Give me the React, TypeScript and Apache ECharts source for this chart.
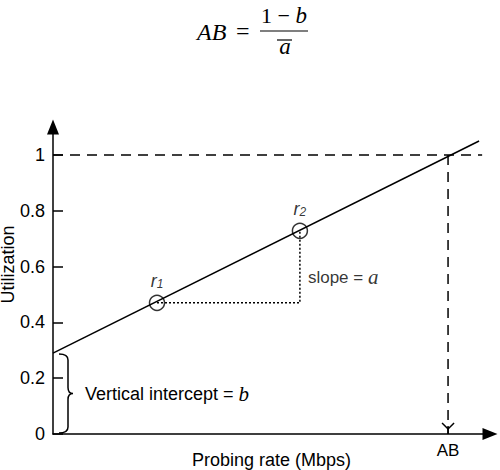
import React, { useEffect, useRef } from "react";
import * as echarts from "echarts";

// ---- data ----
const yTickValues = [0, 0.2, 0.4, 0.6, 0.8, 1];
const yTickLabels = ["0", "0.2", "0.4", "0.6", "0.8", "1"];
const xMax = 10;
const yMax = 1.1;
const intercept = 0.29; // b
const fitLine = [
  [0, 0.29],
  [9.75, 1.05],
];
const probePoints = [
  { name: "1", value: [2.38, 0.47] },
  { name: "2", value: [5.65, 0.728] },
];
const abValue = 9.04;
const fullUtilization = 1;
const dashEndX = 9.82;
const slopeLabelPos = [5.65, 0.561];

const SANS = "'Liberation Sans', Arial, sans-serif";
const SERIF = "'Liberation Serif', 'Times New Roman', serif";

export default function App() {
  const ref = useRef<HTMLDivElement>(null);

  useEffect(() => {
    if (!ref.current) return;
    const chart = echarts.init(ref.current, null, { renderer: "svg" });

    const r1 = probePoints[0].value;
    const r2 = probePoints[1].value;

    const option: any = {
      animation: false,
      grid: {
        left: 53,
        right: 10,
        top: 127,
        bottom: 36,
        containLabel: false,
        outerBoundsMode: "none",
      },
      xAxis: {
        type: "value",
        min: 0,
        max: xMax,
        axisLine: {
          show: true,
          symbol: ["none", "triangle"],
          symbolSize: [12, 15],
          lineStyle: { color: "#000", width: 1.5 },
        },
        axisTick: { show: false },
        splitLine: { show: false },
        axisLabel: {
          show: true,
          customValues: [abValue],
          formatter: () => "AB",
          color: "#000",
          fontFamily: SANS,
          fontSize: 17,
          margin: 8,
        },
        name: "Probing rate (Mbps)",
        nameLocation: "middle",
        nameGap: 17,
        nameMoveOverlap: false,
        nameTextStyle: { color: "#000", fontFamily: SANS, fontSize: 18 },
      },
      yAxis: {
        type: "value",
        min: 0,
        max: yMax,
        axisLine: {
          show: true,
          symbol: ["none", "triangle"],
          symbolSize: [12, 15],
          lineStyle: { color: "#000", width: 1.5 },
        },
        axisTick: {
          show: true,
          inside: true,
          length: 10,
          customValues: yTickValues,
          lineStyle: { color: "#000", width: 1.5 },
        },
        splitLine: { show: false },
        axisLabel: {
          show: true,
          customValues: yTickValues,
          formatter: (v: number) => {
            const i = yTickValues.findIndex((t) => Math.abs(t - v) < 1e-6);
            return i >= 0 ? yTickLabels[i] : "";
          },
          color: "#000",
          fontFamily: SANS,
          fontSize: 18,
          margin: 8,
        },
        name: "Utilization",
        nameLocation: "middle",
        nameRotate: 90,
        nameGap: 36,
        nameMoveOverlap: false,
        nameTextStyle: {
          color: "#000",
          fontFamily: SANS,
          fontSize: 18,
          padding: [0, 0, 0, 32],
        },
      },
      graphic: [
        {
          type: "text",
          x: 197,
          y: 32,
          style: {
            text: "AB",
            font: `italic 24px ${SERIF}`,
            fill: "#000",
            verticalAlign: "middle",
          },
        },
        {
          type: "text",
          x: 236,
          y: 31,
          style: {
            text: "=",
            font: `24px ${SERIF}`,
            fill: "#000",
            verticalAlign: "middle",
          },
        },
        {
          type: "line",
          shape: { x1: 260, y1: 31, x2: 308, y2: 31 },
          style: { stroke: "#000", lineWidth: 1.2 },
        },
        {
          type: "text",
          x: 284,
          y: 15,
          style: {
            text: "{n|1 − }{i|b}",
            align: "center",
            verticalAlign: "middle",
            rich: {
              n: { font: `22px ${SERIF}`, fill: "#000" },
              i: { font: `italic 23px ${SERIF}`, fill: "#000" },
            },
          },
        },
        {
          type: "text",
          x: 285,
          y: 46,
          style: {
            text: "a",
            font: `italic 23px ${SERIF}`,
            fill: "#000",
            align: "center",
            verticalAlign: "middle",
          },
        },
        {
          type: "line",
          shape: { x1: 277, y1: 40, x2: 292, y2: 40 },
          style: { stroke: "#000", lineWidth: 1.2 },
        },
      ],
      series: [
        {
          name: "fit",
          type: "line",
          data: fitLine,
          symbol: "none",
          lineStyle: { color: "#000", width: 1.5 },
          z: 3,
        },
        {
          name: "full",
          type: "line",
          data: [
            [0, fullUtilization],
            [dashEndX, fullUtilization],
          ],
          symbol: "none",
          lineStyle: { color: "#000", width: 1.5, type: [10, 7] },
          z: 2,
        },
        {
          name: "abDrop",
          type: "line",
          data: [
            [abValue, fullUtilization],
            [abValue, 0],
          ],
          symbol: "none",
          lineStyle: { color: "#000", width: 1.5, type: [10, 7] },
          z: 2,
        },
        {
          name: "slopeGuide",
          type: "line",
          data: [
            [r1[0], r1[1]],
            [r2[0], r1[1]],
            [r2[0], r2[1]],
          ],
          symbol: "none",
          lineStyle: { color: "#000", width: 1.5, type: [2, 2] },
          z: 2,
        },
        {
          name: "probes",
          type: "scatter",
          data: probePoints,
          symbol: "circle",
          symbolSize: 15,
          itemStyle: {
            color: "rgba(0,0,0,0)",
            borderColor: "#000",
            borderWidth: 1.5,
          },
          label: {
            show: true,
            position: "top",
            distance: 5,
            color: "#000",
            formatter: (p: any) => `{i|r}{s|${p.name}}`,
            rich: {
              i: {
                fontFamily: SANS,
                fontStyle: "italic",
                fontSize: 18,
                lineHeight: 18,
                color: "#000",
                verticalAlign: "top",
              },
              s: {
                fontFamily: SANS,
                fontStyle: "italic",
                fontSize: 12,
                lineHeight: 12,
                padding: [4, 0, 0, 0],
                color: "#000",
                verticalAlign: "bottom",
              },
            },
          },
          z: 4,
        },
        {
          name: "slopeLabel",
          type: "scatter",
          data: [slopeLabelPos],
          symbolSize: 0,
          itemStyle: { color: "rgba(0,0,0,0)" },
          label: {
            show: true,
            position: "right",
            distance: 8,
            color: "#000",
            formatter: "{n|slope = }{i|a}",
            rich: {
              n: { fontFamily: SANS, fontSize: 17, color: "#000" },
              i: {
                fontFamily: SERIF,
                fontStyle: "italic",
                fontSize: 21,
                color: "#000",
              },
            },
          },
        },
        {
          name: "brace",
          type: "custom",
          data: [[0, 0, intercept]],
          renderItem: (params: any, api: any) => {
            const bottom = api.coord([api.value(0), api.value(1)]);
            const top = api.coord([api.value(0), api.value(2)]);
            const x0 = top[0];
            const xa = x0 + 6;
            const xb = x0 + 15;
            const xc = x0 + 20;
            const yt = top[1] + 1;
            const yb = bottom[1] - 1;
            const ym = (yt + yb) / 2;
            const r = 6;
            const d =
              `M${xa},${yt} Q${xb},${yt} ${xb},${yt + r} ` +
              `L${xb},${ym - r} Q${xb},${ym} ${xc},${ym} ` +
              `Q${xb},${ym} ${xb},${ym + r} ` +
              `L${xb},${yb - r} Q${xb},${yb} ${xa},${yb}`;
            return {
              type: "group",
              children: [
                {
                  type: "path",
                  shape: { pathData: d },
                  style: { fill: "none", stroke: "#000", lineWidth: 1.5 },
                },
                {
                  type: "text",
                  x: xc + 12,
                  y: ym,
                  style: {
                    text: "{n|Vertical intercept = }{i|b}",
                    verticalAlign: "middle",
                    align: "left",
                    rich: {
                      n: { font: `18px ${SANS}`, fill: "#000" },
                      i: { font: `italic 21px ${SERIF}`, fill: "#000" },
                    },
                  },
                },
              ],
            };
          },
          z: 3,
        },
        {
          name: "abArrow",
          type: "custom",
          data: [[abValue, 0]],
          renderItem: (params: any, api: any) => {
            const p = api.coord([api.value(0), api.value(1)]);
            return {
              type: "group",
              children: [
                {
                  type: "polyline",
                  shape: {
                    points: [
                      [p[0] - 6, p[1] - 11],
                      [p[0], p[1] - 5],
                      [p[0] + 6, p[1] - 11],
                    ],
                  },
                  style: { fill: "none", stroke: "#000", lineWidth: 1.5 },
                },
                {
                  type: "line",
                  shape: { x1: p[0], y1: p[1] - 8, x2: p[0], y2: p[1] },
                  style: { stroke: "#000", lineWidth: 1.5 },
                },
              ],
            };
          },
          z: 3,
        },
      ],
    };

    chart.setOption(option);
    return () => chart.dispose();
  }, []);

  return (
    <div
      ref={ref}
      style={{ position: "absolute", left: 0, top: 0, width: 500, height: 470, background: "#fff" }}
    />
  );
}
